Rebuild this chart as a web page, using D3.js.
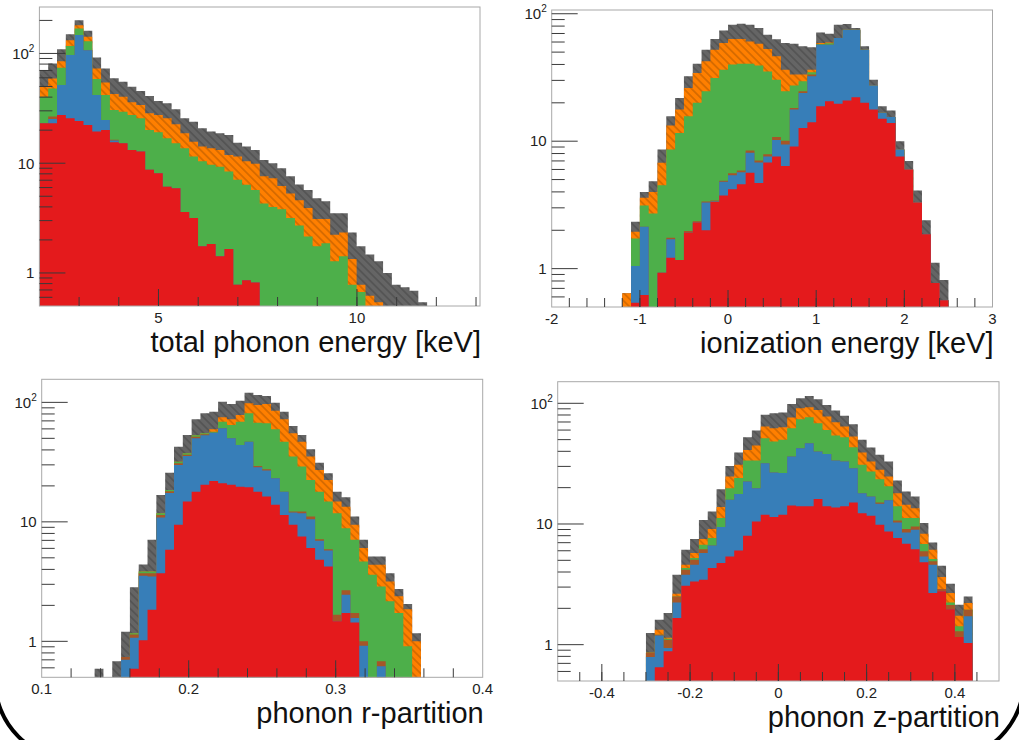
<!DOCTYPE html>
<html>
<head>
<meta charset="utf-8">
<script src="https://cdn.jsdelivr.net/npm/d3@7"></script>
<style>
    body { margin: 0; background: #fff; overflow: hidden; }
    svg { display: block; font-family: 'Liberation Sans', Arial, sans-serif; }
</style>
</head>
<body>
<svg width="1019" height="740"></svg>
<script>
// Each array is one component of the stack, given as the running height of the
// stack up to and including that component (red, blue, brown, green, orange, grey).
// 50 bins per histogram.

// total phonon energy, 2 .. 13.1 keV
const energyRed = [23.1, 23.1, 27.5, 25.7, 24.3, 22.3, 19.4, 20.1, 15.5, 15.2,
    13.2, 12.8, 8.7, 8.1, 6.1, 5.9, 3.6, 3.16, 1.75, 1.84,
    1.42, 1.65, 0.78, 0.86, 0.82, 0, 0, 0, 0, 0,
    0, 0, 0, 0, 0, 0, 0, 0, 0, 0,
    0, 0, 0, 0, 0, 0, 0, 0, 0, 0];
const energyBlue = [23.1, 25.3, 51.5, 96.6, 147, 107, 41.8, 24.8, 16.1, 15.2,
    13.2, 12.8, 8.7, 8.1, 6.1, 5.9, 3.6, 3.16, 1.75, 1.84,
    1.42, 1.65, 0.78, 0.86, 0.82, 0, 0, 0, 0, 0,
    0, 0, 0, 0, 0, 0, 0, 0, 0, 0,
    0, 0, 0, 0, 0, 0, 0, 0, 0, 0];
const energyBrown = [23.1, 26.6, 51.5, 96.6, 147, 107, 41.8, 24.8, 16.4, 15.2,
    13.2, 12.8, 8.7, 8.1, 6.1, 5.9, 3.6, 3.16, 1.75, 1.84,
    1.42, 1.65, 0.78, 0.86, 0.82, 0, 0, 0, 0, 0,
    0, 0, 0, 0, 0, 0, 0, 0, 0, 0,
    0, 0, 0, 0, 0, 0, 0, 0, 0, 0];
const energyGreen = [40.4, 48, 74, 117, 169, 129, 58.4, 41.8, 30.5, 29.5,
    27.5, 25.7, 20.1, 19.1, 16.9, 15.2, 13.7, 11.5, 10.4, 9.7,
    9.3, 8.4, 7.05, 6.35, 5.7, 4.3, 4.0, 3.8, 3.16, 2.7,
    2.15, 1.75, 1.87, 1.28, 1.42, 0.78, 0.67, 0, 0, 0,
    0, 0, 0, 0, 0, 0, 0, 0, 0, 0];
const energyOrange = [49.8, 59, 85, 132, 181, 142, 73, 54.5, 42.7, 40.4,
    35.9, 33.9, 28.5, 27.5, 25.7, 22.6, 18.7, 15.7, 14.2, 13.7,
    13.2, 11.9, 11.5, 10.4, 9.9, 7.6, 7.3, 6.2, 5.3, 4.6,
    3.9, 3.1, 3.1, 2.23, 2.34, 1.34, 0.78, 0.62, 0.54, 0,
    0, 0, 0, 0, 0, 0, 0, 0, 0, 0];
const energyGray = [70.5, 81, 109, 150, 201, 161, 92, 73, 59.3, 55.3,
    49.8, 45.5, 41, 36.9, 35.1, 31, 25.7, 23.9, 20.8, 19.4,
    18.7, 18.1, 15.4, 14.2, 13.2, 10.7, 10, 9.0, 7.6, 6.4,
    5.7, 4.8, 4.5, 3.5, 3.5, 2.34, 1.75, 1.47, 1.28, 1.0,
    0.78, 0.74, 0.69, 0.54, 0, 0, 0, 0, 0, 0];

// ionization energy, -2 .. 3 keV
const ionRed = [0, 0, 0, 0, 0, 0, 0, 0, 0, 0.54,
    0.62, 0, 0.93, 1.22, 1.17, 1.91, 2.3, 2.0, 3.33, 3.75,
    4.2, 4.6, 5.65, 4.7, 6.8, 7.6, 6.4, 9.1, 12.7, 14.1,
    18.8, 20.6, 19.7, 20.9, 22.1, 20.0, 17.7, 15.0, 13.9, 7.6,
    6.0, 3.3, 1.86, 0.77, 0.565, 0, 0, 0, 0, 0];
const ionBlue = [0, 0, 0, 0, 0, 0, 0, 0, 0, 1.05,
    2.13, 0, 0.93, 1.70, 1.17, 1.91, 2.3, 3.3, 3.37, 4.8,
    5.4, 5.7, 8.1, 6.8, 7.6, 10.2, 9.4, 17.7, 23.9, 32.3,
    57.2, 57.2, 64.5, 75, 75, 52.2, 27.3, 16.7, 15.5, 8.6,
    6.0, 3.3, 1.86, 0.77, 0.565, 0, 0, 0, 0, 0];
const ionBrown = [0, 0, 0, 0, 0, 0, 0, 0, 0, 1.05,
    2.13, 0, 0.93, 1.75, 1.17, 1.97, 2.35, 3.37, 3.43, 4.9,
    5.6, 5.9, 8.45, 7.06, 7.9, 10.8, 10.1, 18.2, 24.6, 33.3,
    57.2, 57.2, 64.5, 75, 75, 52.2, 27.3, 16.7, 15.5, 8.6,
    6.0, 3.3, 1.86, 0.77, 0.565, 0, 0, 0, 0, 0];
const ionGreen = [0, 0, 0, 0, 0, 0, 0, 0, 0, 1.72,
    3.13, 2.71, 4.52, 8.6, 11.6, 15.7, 20.0, 24.6, 31.3, 36.4,
    39.9, 40.6, 40.6, 39.2, 35.3, 30.4, 24.6, 27.3, 29.5, 34.8,
    57.8, 58.6, 64.5, 75, 75, 52.2, 27.3, 16.7, 15.5, 8.6,
    6.0, 3.3, 1.86, 0.77, 0.565, 0, 0, 0, 0, 0];
const ionOrange = [0, 0, 0, 0, 0, 0, 0, 0, 0.64, 1.95,
    3.6, 3.99, 6.77, 13.3, 17.7, 26.2, 34.3, 42.4, 52.2, 58.9,
    63.4, 63.4, 60.6, 58.2, 52.8, 46.3, 36.4, 33.3, 33.3, 36.4,
    58.9, 59.5, 64.5, 75, 75, 52.2, 27.3, 16.7, 15.5, 8.6,
    6.0, 3.3, 1.86, 0.77, 0.565, 0, 0, 0, 0, 0];
const ionGray = [0, 0, 0, 0, 0, 0, 0, 0, 0.64, 2.33,
    3.99, 4.86, 8.6, 15.7, 21.8, 32.3, 40.6, 52.2, 63.4, 74,
    82, 83.5, 82, 77.2, 68.5, 63, 58.9, 58.2, 55.5, 54.6,
    71.4, 69.7, 82, 83, 77.2, 55.5, 30.4, 18.8, 17.4, 10,
    7.0, 4.1, 2.4, 1.11, 0.815, 0, 0, 0, 0, 0];

// phonon r-partition, 0.1 .. 0.4
const rRed = [0, 0, 0, 0, 0, 0, 0, 0, 0, 0,
    0.59, 1.02, 1.84, 3.72, 5.83, 9.44, 14.8, 17.9, 20.4, 22,
    21, 20.4, 19.7, 19.5, 17.9, 16.3, 13.9, 11.4, 9.44, 7.54,
    6.03, 4.81, 4.24, 1.47, 1.73, 1.44, 0, 0, 0, 0,
    0, 0, 0, 0, 0, 0, 0, 0, 0, 0];
const rBlue = [0, 0, 0, 0, 0, 0, 0, 0, 0, 0.70,
    1.07, 3.54, 3.49, 10.9, 17.4, 29.9, 35.6, 50, 53, 55.8,
    60.6, 50, 44, 46.9, 28.6, 26.9, 23.2, 17.9, 12.0, 11.8,
    10.5, 6.94, 5.76, 1.47, 2.45, 1.57, 0.92, 0, 0.62, 0,
    0, 0, 0, 0, 0, 0, 0, 0, 0, 0];
const rBrown = [0, 0, 0, 0, 0, 0, 0, 0, 0, 0.74,
    1.14, 3.72, 3.72, 11.4, 18.0, 30.9, 36.5, 51.6, 54.1, 55.8,
    60.6, 50, 44, 46.9, 29.4, 27.5, 23.2, 17.9, 12.2, 12.2,
    11.1, 7.16, 5.91, 1.67, 2.67, 1.73, 1.0, 0, 0.68, 0,
    0, 0, 0, 0, 0, 0, 0, 0, 0, 0];
const rGreen = [0, 0, 0, 0, 0, 0, 0, 0, 0, 0.74,
    1.17, 3.85, 3.85, 11.8, 18.5, 31.9, 37.5, 53, 55.1, 56.9,
    68.9, 64.7, 68.9, 80.9, 67.6, 66.8, 59.5, 46.9, 35.2, 29,
    22.4, 17.9, 14.8, 11.8, 8.85, 7.07, 4.66, 3.61, 2.88, 2.16,
    1.73, 0.91, 0, 0, 0, 0, 0, 0, 0, 0];
const rOrange = [0, 0, 0, 0, 0, 0, 0, 0, 0, 0.74,
    1.17, 3.85, 3.85, 11.8, 18.5, 31.9, 37.5, 53, 55.1, 59.5,
    74.9, 72.1, 78.4, 98.1, 95, 96.8, 85.2, 72.1, 55.1, 46.9,
    35.2, 27.2, 22.4, 14.8, 13.4, 9.44, 6.03, 4.37, 4.37, 3.17,
    2.38, 1.86, 1.0, 0, 0, 0, 0, 0, 0, 0];
const rGray = [0, 0, 0, 0, 0, 0, 0.59, 0, 0.68, 1.2,
    2.83, 4.4, 7.07, 16.8, 25.8, 42.6, 53.3, 72.1, 80.9, 83.6,
    101, 96.8, 103, 120.5, 115, 113, 99.3, 83.6, 63.4, 53.3,
    40.5, 31.3, 25.5, 17.9, 16.1, 11.1, 7.07, 5.13, 5.13, 3.72,
    2.74, 2.05, 1.17, 0, 0, 0, 0, 0, 0, 0];

// phonon z-partition, -0.5 .. 0.5
const zRed = [0, 0, 0, 0, 0, 0, 0, 0, 0, 0,
    0, 0.65, 0.88, 1.66, 3.08, 3.34, 3.45, 4.31, 4.74, 5.39,
    6.04, 7.98, 10.5, 11.9, 11.4, 11.9, 14.2, 14.0, 14.0, 16.1,
    14.0, 13.7, 14.0, 15.1, 12.3, 11.7, 9.85, 8.67, 7.64, 6.86,
    6.19, 4.81, 2.68, 2.77, 1.97, 1.16, 1.03, 0, 0, 0];
const zBlue = [0, 0, 0, 0, 0, 0, 0, 0, 0, 0,
    0.79, 1.19, 0.94, 2.24, 3.80, 4.59, 5.74, 6.64, 9.42, 15.9,
    17.7, 22.5, 19.8, 31.9, 26.7, 26.4, 36.2, 42.5, 46.7, 39.8,
    38.1, 33.6, 32.9, 29, 18.0, 16.9, 14.7, 15.7, 10.3, 8.51,
    8.95, 5.39, 4.59, 2.77, 1.97, 1.16, 1.72, 0, 0, 0];
const zBrown = [0, 0, 0, 0, 0, 0, 0, 0, 0, 0,
    0.86, 1.21, 1.10, 2.51, 4.18, 5.06, 6.19, 6.64, 9.42, 15.9,
    17.7, 22.5, 19.8, 31.9, 26.7, 26.4, 36.2, 42.5, 46.7, 39.8,
    38.1, 33.6, 32.9, 29, 18.0, 16.9, 15.1, 15.7, 10.7, 9.07,
    9.54, 5.93, 4.9, 2.89, 2.13, 1.29, 1.95, 0, 0, 0];
const zGreen = [0, 0, 0, 0, 0, 0, 0, 0, 0, 0,
    0.86, 1.21, 1.12, 2.51, 4.31, 5.22, 6.73, 7.64, 11.2, 19.8,
    24.0, 33.6, 33.6, 51.4, 48.2, 49.8, 62.2, 73.8, 76.7, 68.4,
    60.2, 54.1, 52.4, 43.3, 30.9, 27.2, 23.5, 20.5, 14.0, 11.2,
    11.2, 6.81, 5.12, 2.89, 2.24, 1.42, 1.95, 0, 0, 0];
const zOrange = [0, 0, 0, 0, 0, 0, 0, 0, 0, 0,
    0.86, 1.33, 1.14, 2.64, 4.59, 5.74, 7.5, 9.07, 13.8, 24.7,
    30.9, 41.1, 44.7, 64.2, 62.2, 63.4, 76.2, 91, 92.8, 88.2,
    77.6, 69.7, 64.2, 53.1, 39.1, 32.9, 28.1, 24.7, 18.0, 14.4,
    13.5, 8.3, 6.11, 3.63, 2.68, 1.74, 2.21, 0, 0, 0];
const zGray = [0, 0, 0, 0, 0, 0, 0, 0, 0, 0,
    1.25, 1.61, 1.83, 3.80, 6.11, 7.5, 10.8, 12.7, 19.4, 30.3,
    39.1, 52.4, 59.4, 80.2, 82.7, 83.8, 98.9, 110, 115, 108,
    97, 87.1, 78.7, 67.1, 49.8, 43, 37.4, 32.9, 22.9, 18.6,
    16.9, 10.2, 7.03, 4.51, 3.2, 2.14, 2.51, 0, 0, 0];

// axis tick labels
const energyTicks = [5, 10];
const ionTicks = [-2, -1, 0, 1, 2, 3];
const rTicks = [0.1, 0.2, 0.3, 0.4];
const zTicks = [-0.4, -0.2, 0, 0.2, 0.4];
const yTicks = [1, 10, 100];

const layerColors = ['#e41a1c', '#377eb8', '#a65628', '#4daf4a', '#ff7f00', '#656565'];
const hatched = [false, false, false, false, true, true];

let panels = [
    { levels: [energyRed, energyBlue, energyBrown, energyGreen, energyOrange, energyGray],
      range: [2, 13.1], box: { x0: 39.4, x1: 480, y0: 7, y1: 306 }, yMax: 265,
      ticks: energyTicks, minorStep: 1, title: 'total phonon energy [keV]' },
    { levels: [ionRed, ionBlue, ionBrown, ionGreen, ionOrange, ionGray],
      range: [-2, 3], box: { x0: 551.7, x1: 992.5, y0: 10, y1: 307 }, yMax: 107,
      ticks: ionTicks, minorStep: 0.2, title: 'ionization energy [keV]' },
    { levels: [rRed, rBlue, rBrown, rGreen, rOrange, rGray],
      range: [0.1, 0.4], box: { x0: 41.7, x1: 482.7, y0: 379.3, y1: 677.3 }, yMax: 156,
      ticks: rTicks, minorStep: 0.02, title: 'phonon r-partition' },
    { levels: [zRed, zBlue, zBrown, zGreen, zOrange, zGray],
      range: [-0.5, 0.5], box: { x0: 557.7, x1: 999, y0: 381.7, y1: 681 }, yMax: 151,
      ticks: zTicks, minorStep: 0.05, title: 'phonon z-partition' }
];

function drawPanel(svg, p) {
    let b = p.box;
    let x = d3.scaleLinear().domain(p.range).range([b.x0, b.x1]);
    let y = d3.scaleLog().domain([0.5, p.yMax]).range([b.y1, b.y0]).clamp(true);
    let n = p.levels[0].length;
    let binWidth = (p.range[1] - p.range[0]) / n;
    let g = svg.append('g');

    let area = d3.area()
        .curve(d3.curveStepAfter)
        .x(d => x(p.range[0] + d.i * binWidth))
        .y0(b.y1)
        .y1(d => d.v > 0 ? y(d.v) : b.y1);

    // top of stack first, lower components paint over it
    for (let k = p.levels.length - 1; k >= 0; k--) {
        let pts = p.levels[k].map((v, i) => ({ i: i, v: v }));
        pts.push({ i: n, v: p.levels[k][n - 1] });
        g.append('path').attr('d', area(pts)).attr('fill', layerColors[k]);
        if (hatched[k]) {
            g.append('path').attr('d', area(pts)).attr('fill', 'url(#hatch)');
        }
    }

    g.append('rect')
        .attr('x', b.x0).attr('y', b.y0)
        .attr('width', b.x1 - b.x0).attr('height', b.y1 - b.y0)
        .attr('fill', 'none')
        .attr('stroke', '#a8a8a8')
        .attr('stroke-width', 1);

    // y axis: log ticks drawn inward from the left edge
    let minor = [];
    [-1, 0, 1, 2].forEach(function(e) {
        d3.range(2, 10).forEach(function(m) {
            let v = m * Math.pow(10, e);
            if (v > 0.52 && v < p.yMax) minor.push(v);
        });
    });
    g.selectAll('.ymin').data(minor).join('line')
        .attr('x1', b.x0).attr('x2', b.x0 + 13)
        .attr('y1', d => y(d)).attr('y2', d => y(d))
        .attr('stroke', '#3a3a3a').attr('stroke-width', 1);
    g.selectAll('.ymaj').data(yTicks).join('line')
        .attr('x1', b.x0).attr('x2', b.x0 + 26)
        .attr('y1', d => y(d)).attr('y2', d => y(d))
        .attr('stroke', '#3a3a3a').attr('stroke-width', 1);

    let labels = g.selectAll('.ylab').data(yTicks).join('text')
        .attr('x', b.x0 - 5)
        .attr('y', d => y(d) + 5.3)
        .attr('text-anchor', 'end')
        .attr('font-size', 15)
        .attr('fill', '#222');
    labels.each(function(d) {
        let t = d3.select(this);
        if (d === 100) {
            t.text('10');
            t.append('tspan').attr('dy', -7).attr('font-size', 10).text('2');
        } else {
            t.text(d);
        }
    });

    // x axis: ticks drawn upward from the bottom edge
    let lo = Math.ceil(p.range[0] / p.minorStep - 1e-6);
    let hi = Math.floor(p.range[1] / p.minorStep + 1e-6);
    let xMinor = d3.range(lo, hi + 1).map(k => k * p.minorStep)
        .filter(v => x(v) > b.x0 + 1 && x(v) < b.x1 - 1);
    g.selectAll('.xmin').data(xMinor).join('line')
        .attr('x1', d => x(d)).attr('x2', d => x(d))
        .attr('y1', b.y1).attr('y2', b.y1 - 9)
        .attr('stroke', '#3a3a3a').attr('stroke-width', 1);
    g.selectAll('.xmaj').data(p.ticks.filter(v => x(v) > b.x0 + 1 && x(v) < b.x1 - 1)).join('line')
        .attr('x1', d => x(d)).attr('x2', d => x(d))
        .attr('y1', b.y1).attr('y2', b.y1 - 17)
        .attr('stroke', '#3a3a3a').attr('stroke-width', 1);
    g.selectAll('.xlab').data(p.ticks).join('text')
        .attr('x', d => x(d))
        .attr('y', b.y1 + 17)
        .attr('text-anchor', 'middle')
        .attr('font-size', 15)
        .attr('fill', '#222')
        .text(d => d);

    g.append('text')
        .attr('x', b.x1 + 1)
        .attr('y', b.y1 + 46)
        .attr('text-anchor', 'end')
        .attr('font-size', 29)
        .attr('fill', '#111')
        .text(p.title);
}

document.addEventListener('DOMContentLoaded', function() {
    let svg = d3.select('svg');

    svg.append('defs').append('pattern')
        .attr('id', 'hatch')
        .attr('patternUnits', 'userSpaceOnUse')
        .attr('width', 5.5).attr('height', 5.5)
        .attr('patternTransform', 'rotate(-45)')
      .append('line')
        .attr('x1', 2.75).attr('y1', 0).attr('x2', 2.75).attr('y2', 5.5)
        .attr('stroke', 'rgba(0,0,0,0.26)')
        .attr('stroke-width', 1.1);

    panels.forEach(function(p) {
        drawPanel(svg, p);
    });

    // rounded frame of the slide, only its lower corners show
    svg.append('rect')
        .attr('x', -5).attr('y', -120)
        .attr('width', 1029).attr('height', 880)
        .attr('rx', 80)
        .attr('fill', 'none')
        .attr('stroke', '#000')
        .attr('stroke-width', 4);
});
</script>
</body>
</html>
